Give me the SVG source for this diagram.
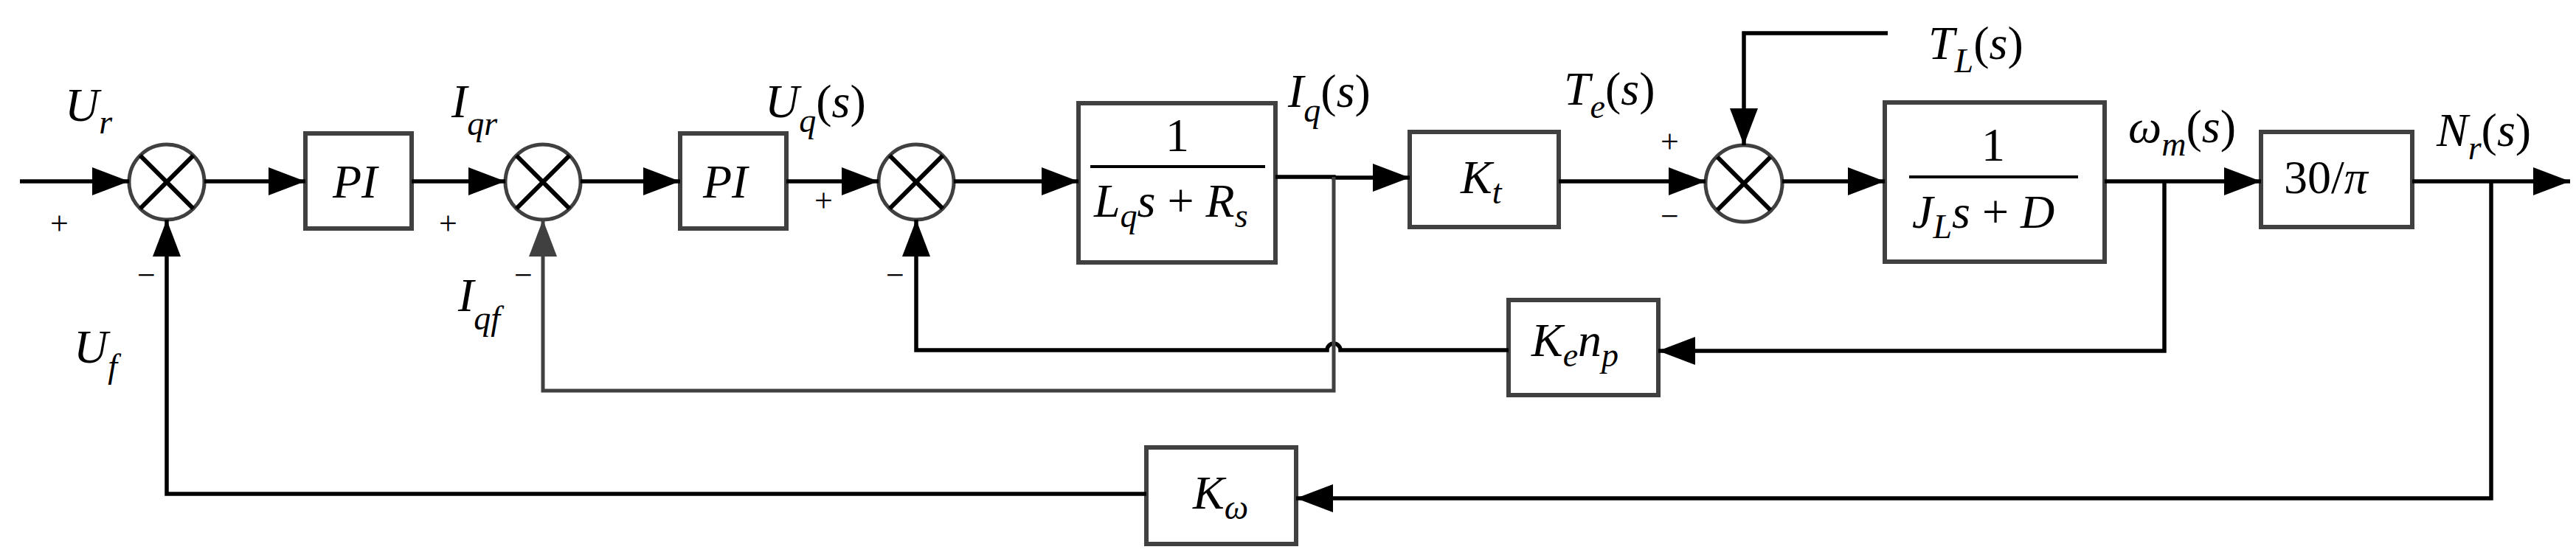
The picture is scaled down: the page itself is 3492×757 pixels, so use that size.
<svg xmlns="http://www.w3.org/2000/svg" width="3492" height="757" viewBox="0 0 3492 757">
<style>
.b{fill:none;stroke:#404040;stroke-width:6}
.s{fill:none;stroke:#404040;stroke-width:5}
.x{stroke:#000;stroke-width:6}
.l{fill:none;stroke:#000;stroke-width:5.5}
.g{fill:none;stroke:#404040;stroke-width:5}
text{font-family:"Liberation Serif","Times New Roman",serif;font-style:italic;font-size:64px;fill:#000}
.n{font-style:normal}
.sub{font-size:46px}
.sg{font-style:normal;font-size:44px}
</style>
<defs>
<marker id="a" markerUnits="userSpaceOnUse" markerWidth="52" markerHeight="40" refX="50" refY="20" orient="auto"><path d="M0,1L50,20L0,39z" fill="#000"/></marker>
<marker id="ag" markerUnits="userSpaceOnUse" markerWidth="52" markerHeight="40" refX="50" refY="20" orient="auto"><path d="M0,1L50,20L0,39z" fill="#404040"/></marker>
</defs>
<g id="sum1"><circle class="s" cx="226" cy="247" r="51"/><path class="x" d="M190,211L262,283M262,211L190,283"/></g>
<g id="sum2"><circle class="s" cx="736" cy="247" r="51"/><path class="x" d="M700,211L772,283M772,211L700,283"/></g>
<g id="sum3"><circle class="s" cx="1242" cy="247" r="51"/><path class="x" d="M1206,211L1278,283M1278,211L1206,283"/></g>
<g id="sum4"><circle class="s" cx="2364" cy="249" r="52"/><path class="x" d="M2328,213L2400,285M2400,213L2328,285"/></g>
<g id="pi1"><rect class="b" x="414" y="181" width="144" height="129"/><text x="451" y="268">PI</text></g>
<g id="pi2"><rect class="b" x="922" y="181" width="144" height="129"/><text x="953" y="268">PI</text></g>
<g id="plant1"><rect class="b" x="1462" y="140" width="267" height="216"/><line x1="1478" y1="226" x2="1715" y2="226" stroke="#000" stroke-width="4"/><text class="n" x="1596" y="205" text-anchor="middle">1</text><text x="1483" y="294">L<tspan class="sub" dy="14">q</tspan><tspan dy="-14">s</tspan><tspan class="n"> + </tspan>R<tspan class="sub" dy="14">s</tspan></text></g>
<g id="kt"><rect class="b" x="1911" y="179" width="202" height="129"/><text x="1980" y="262">K<tspan class="sub" dy="14">t</tspan></text></g>
<g id="plant2"><rect class="b" x="2555" y="139" width="298" height="216"/><line x1="2588" y1="240" x2="2817" y2="240" stroke="#000" stroke-width="4"/><text class="n" x="2702" y="218" text-anchor="middle">1</text><text x="2592" y="309">J<tspan class="sub" dy="14">L</tspan><tspan dy="-14">s</tspan><tspan class="n"> + </tspan>D</text></g>
<g id="conv"><rect class="b" x="3065" y="179" width="205" height="129"/><text x="3096" y="262"><tspan class="n">30/</tspan>π</text></g>
<g id="kenp"><rect class="b" x="2045" y="407" width="203" height="129"/><text x="2076" y="483">K<tspan class="sub" dy="14">e</tspan><tspan dy="-14">n</tspan><tspan class="sub" dy="14">p</tspan></text></g>
<g id="kw"><rect class="b" x="1554" y="607" width="203" height="131"/><text x="1617" y="690">K<tspan class="sub" dy="14">ω</tspan></text></g>
<g id="labels">
<text x="88" y="164">U<tspan class="sub" dy="17">r</tspan></text>
<text x="100" y="492">U<tspan class="sub" dy="20">f</tspan></text>
<text x="612" y="159">I<tspan class="sub" dy="24">qr</tspan></text>
<text x="621" y="422">I<tspan class="sub" dy="25">qf</tspan></text>
<text x="1037" y="159">U<tspan class="sub" dy="20">q</tspan><tspan class="n" dy="-20">(</tspan>s<tspan class="n">)</tspan></text>
<text x="1746" y="145">I<tspan class="sub" dy="20">q</tspan><tspan class="n" dy="-20">(</tspan>s<tspan class="n">)</tspan></text>
<text x="2120" y="142">T<tspan class="sub" dy="18">e</tspan><tspan class="n" dy="-18">(</tspan>s<tspan class="n">)</tspan></text>
<text x="2614" y="80">T<tspan class="sub" dy="18">L</tspan><tspan class="n" dy="-18">(</tspan>s<tspan class="n">)</tspan></text>
<text x="2885" y="193">ω<tspan class="sub" dy="18">m</tspan><tspan class="n" dy="-18">(</tspan>s<tspan class="n">)</tspan></text>
<text x="3303" y="198">N<tspan class="sub" dy="18">r</tspan><tspan class="n" dy="-18">(</tspan>s<tspan class="n">)</tspan></text>
<text class="sg" x="68" y="318">+</text>
<text class="sg" x="186" y="388">−</text>
<text class="sg" x="595" y="318">+</text>
<text class="sg" x="697" y="388">−</text>
<text class="sg" x="1104" y="287">+</text>
<text class="sg" x="1201" y="388">−</text>
<text class="sg" x="2251" y="207">+</text>
<text class="sg" x="2251" y="308">−</text>
</g>
<g id="connectors">
<path class="l" d="M27,246H175" marker-end="url(#a)"/>
<path class="l" d="M277,246H414" marker-end="url(#a)"/>
<path class="l" d="M558,246H685" marker-end="url(#a)"/>
<path class="l" d="M787,246H922" marker-end="url(#a)"/>
<path class="l" d="M1066,246H1191" marker-end="url(#a)"/>
<path class="l" d="M1293,246H1462" marker-end="url(#a)"/>
<path class="l" d="M1729,240H1808V241H1911" marker-end="url(#a)"/>
<path class="l" d="M2113,246H2312" marker-end="url(#a)"/>
<path class="l" d="M2416,246H2555" marker-end="url(#a)"/>
<path class="l" d="M2853,246H3065" marker-end="url(#a)"/>
<path class="l" d="M3270,246H3484" marker-end="url(#a)"/>
<path class="l" d="M2559,45H2364V197" marker-end="url(#a)"/>
<path class="l" d="M2934,246V476H2248" marker-end="url(#a)"/>
<path class="l" d="M2045,475H1817A9,9 0 0 0 1799,475H1242V298" marker-end="url(#a)"/>
<path class="g" d="M1808,240V530H736V298" marker-end="url(#ag)"/>
<path class="l" d="M3377,246V676H1757" marker-end="url(#a)"/>
<path class="l" d="M1554,670H226V298" marker-end="url(#a)"/>
</g>
</svg>
